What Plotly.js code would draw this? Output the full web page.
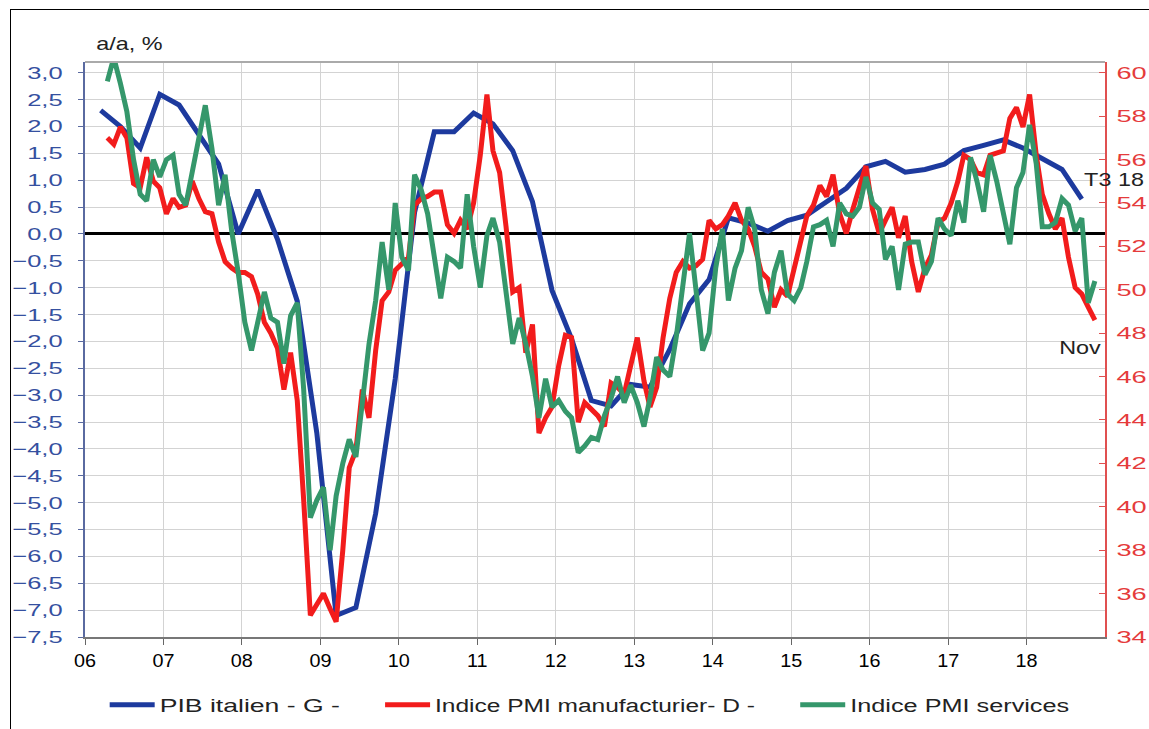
<!DOCTYPE html>
<html>
<head>
<meta charset="utf-8">
<script src="https://cdn.plot.ly/plotly-3.0.1.min.js"></script>
<style>
  html, body { margin: 0; padding: 0; background: #ffffff; }
  #frame { position: absolute; left: 10px; top: 9px; width: 1200px; height: 740px; border: 1px solid #000; }
  #chart { position: absolute; left: 0; top: 0; width: 1149px; height: 729px; }
</style>
</head>
<body>
<div id="frame"></div>
<div id="chart"></div>
<script>
// ---- Data ----
const yearTicks = [2006, 2007, 2008, 2009, 2010, 2011, 2012, 2013, 2014, 2015, 2016, 2017, 2018];
const yearLabels = ['06', '07', '08', '09', '10', '11', '12', '13', '14', '15', '16', '17', '18'];

// Italian GDP, y/y %, quarterly from 2006 Q1 to 2018 Q3
const gdpStart = { year: 2006, quarter: 1 };
const gdpValues = [
  2.3, 2.0, 1.6, 2.6,
  2.4, 1.85, 1.3, 0.0,
  0.82, -0.1, -1.25, -3.7,
  -7.1, -6.95, -5.2, -2.7,
  0.4, 1.9, 1.9, 2.25,
  2.05, 1.55, 0.6, -1.05,
  -1.95, -3.1, -3.2, -2.8,
  -2.85, -2.15, -1.3, -0.85,
  0.3, 0.2, 0.05, 0.25,
  0.35, 0.6, 0.85, 1.25,
  1.35, 1.15, 1.2, 1.3,
  1.55, 1.65, 1.75, 1.6,
  1.4, 1.2, 0.65
];

// PMI series, monthly from April 2006 to November 2018
const pmiStart = { year: 2006, month: 4 };
const pmiManufacturing = [
  57.0, 56.7, 57.5, 57.0, 54.9, 54.7, 56.1, 55.0, 54.7,
  53.5, 54.2, 53.8, 53.9, 55.0, 54.2, 53.6, 53.5, 52.2, 51.3, 51.0, 50.8,
  50.8, 50.6, 49.8, 48.5, 48.0, 47.3, 45.4, 47.1, 44.9, 40.3, 35.0, 35.5,
  36.0, 35.3, 34.7, 38.0, 41.8, 42.6, 45.4, 44.1, 47.2, 49.5, 49.9, 50.9,
  51.2, 51.5, 53.9, 54.2, 54.3, 54.5, 54.5, 53.0, 52.6, 53.2, 52.8, 54.0,
  56.2, 59.0, 56.4, 55.4, 52.9, 49.9, 50.1, 47.1, 48.4, 43.4, 44.1, 44.6,
  46.5, 47.9, 47.8, 43.9, 44.8, 44.5, 44.2, 43.7, 45.7, 45.5, 45.2, 46.5,
  47.8, 45.8, 44.6, 45.5, 47.8, 49.6, 50.8, 51.3, 51.0, 51.1, 51.4, 53.2,
  52.8, 53.0, 53.4, 54.0, 53.2, 52.8, 52.0, 50.8, 50.5, 49.2, 50.0, 49.7,
  51.0, 52.3, 53.4, 53.9, 54.8, 54.3, 55.3, 53.5, 52.6, 53.7, 54.8, 55.7,
  53.7, 52.6, 53.2, 53.8, 52.4, 53.4, 51.3, 49.9, 51.0, 51.6, 53.1, 53.3,
  54.0, 55.0, 56.2, 56.0, 55.4, 55.3, 56.2, 56.3, 56.4, 57.9, 58.4, 57.5,
  59.0, 56.2, 54.4, 53.5, 52.8, 53.3, 51.5, 50.1, 49.8, 49.2, 48.6
];
const pmiServices = [
  59.6, 60.7, 59.5, 58.2, 56.0, 54.4, 54.1, 56.0, 55.2,
  56.0, 56.2, 54.4, 53.9, 55.5, 57.0, 58.5, 56.5, 53.9, 55.3, 52.7, 50.8,
  48.5, 47.2, 48.5, 49.9, 48.7, 48.5, 46.6, 48.8, 49.4, 45.4, 39.5, 40.3,
  40.9, 38.0, 40.5, 42.0, 43.1, 42.3, 44.8, 47.5, 49.5, 52.2, 50.0, 54.0,
  51.5, 50.9, 55.3, 54.6, 53.5, 51.5, 49.6, 51.5, 51.3, 51.0, 54.4, 52.0,
  50.1, 52.5, 53.3, 52.2, 50.0, 47.5, 48.7, 47.5, 46.0, 44.1, 45.9, 44.6,
  44.9, 44.4, 44.1, 42.5, 42.8, 43.2, 43.1, 44.2, 45.0, 46.0, 44.8, 45.6,
  44.8, 43.7, 45.0, 46.9, 46.3, 46.0, 47.8, 50.0, 52.6, 50.0, 47.2, 48.0,
  51.0, 52.8, 49.5, 51.0, 51.8, 53.8, 52.8, 50.0, 48.9, 50.8, 51.8, 49.8,
  49.5, 50.1, 51.3, 52.9, 53.0, 53.2, 52.0, 54.0, 53.5, 53.4, 53.8, 55.2,
  54.0, 53.7, 51.4, 52.0, 50.0, 52.1, 52.2, 52.2, 50.7, 51.3, 53.3, 52.8,
  52.5, 54.1, 53.1, 56.1, 55.0, 53.6, 56.2, 55.0, 53.5, 52.1, 54.7, 55.4,
  57.6, 55.8, 52.9, 52.9, 53.1, 54.2, 53.9, 52.7, 53.3, 49.4, 50.4
];

const seriesNames = ['PIB italien - G -', 'Indice PMI manufacturier- D -', 'Indice PMI services'];
const axisTitle = 'a/a, %';
const gdpLabel = 'T3 18';
const pmiLabel = 'Nov';

// ---- Date helpers (x positions only) ----
function pad(n) { return (n < 10 ? '0' : '') + n; }
function monthDate(y, m) { return y + '-' + pad(m) + '-15'; }
const gdpDates = gdpValues.map((_, i) => {
  const q = gdpStart.quarter - 1 + i;
  const y = gdpStart.year + Math.floor(q / 4);
  const m = (q % 4) * 3 + 3;
  return monthDate(y, m);
});
const pmiDates = pmiManufacturing.map((_, i) => {
  const k = pmiStart.month - 1 + i;
  return monthDate(pmiStart.year + Math.floor(k / 12), (k % 12) + 1);
});
const tickDates = yearTicks.map(y => y + '-01-01');

// ---- Axis ranges ----
const leftMin = -7.5, leftMax = 3.2;
const rightMin = 34, rightMax = 34 + (leftMax - leftMin) * 26 / 10.5;

const BLUE = '#1d3a9e', RED = '#f21c1c', GREEN = '#35976b';
const FONT = 'Liberation Sans, Arial, sans-serif';

const traces = [
  { x: gdpDates, y: gdpValues, name: seriesNames[0], type: 'scatter', mode: 'lines',
    line: { color: BLUE, width: 5 }, yaxis: 'y', legend: 'legend' },
  { x: pmiDates, y: pmiManufacturing, name: seriesNames[1], type: 'scatter', mode: 'lines',
    line: { color: RED, width: 5 }, yaxis: 'y2', legend: 'legend2' },
  { x: pmiDates, y: pmiServices, name: seriesNames[2], type: 'scatter', mode: 'lines',
    line: { color: GREEN, width: 5 }, yaxis: 'y2', legend: 'legend3' }
];

const legendBase = {
  orientation: 'h', xanchor: 'left', yref: 'container', y: 0.033, yanchor: 'middle',
  font: { family: FONT, size: 19, color: '#222' }, bgcolor: 'rgba(0,0,0,0)'
};

const layout = {
  width: 1149, height: 729,
  margin: { l: 85, r: 44, t: 62, b: 92, autoexpand: false },
  paper_bgcolor: 'rgba(0,0,0,0)',
  plot_bgcolor: '#ffffff',
  separators: ', ',
  font: { family: FONT, size: 15, color: '#000' },
  showlegend: true,
  legend: Object.assign({}, legendBase, { x: 0.034 }),
  legend2: Object.assign({}, legendBase, { x: 0.304 }),
  legend3: Object.assign({}, legendBase, { x: 0.711 }),
  xaxis: {
    type: 'date',
    range: ['2006-01-01', '2019-01-01'],
    tickvals: tickDates, ticktext: yearLabels,
    ticks: 'outside', ticklen: 6, tickcolor: '#666',
    showgrid: true, gridcolor: '#d3d3d3', gridwidth: 1,
    showline: true, linecolor: '#777', linewidth: 2, mirror: false,
    tickfont: { family: FONT, size: 18, color: '#000' },
    zeroline: false
  },
  yaxis: {
    range: [leftMin, leftMax],
    tick0: -7.5, dtick: 0.5, tickformat: '.1f',
    ticks: 'outside', ticklen: 5, tickcolor: '#5a6aa0',
    ticklabelstandoff: 12,
    showgrid: true, gridcolor: '#d3d3d3', gridwidth: 1,
    showline: true, linecolor: '#5a6aa0', linewidth: 2,
    tickfont: { family: FONT, size: 17, color: '#3550a0' },
    zeroline: true, zerolinecolor: '#000', zerolinewidth: 3
  },
  yaxis2: {
    overlaying: 'y', side: 'right',
    range: [rightMin, rightMax],
    tick0: 34, dtick: 2,
    ticks: 'inside', ticklen: 6, tickcolor: '#e05050',
    ticklabelstandoff: 6,
    showgrid: false, zeroline: false,
    showline: true, linecolor: '#e05050', linewidth: 2,
    tickfont: { family: FONT, size: 17, color: '#e53b3b' }
  },
  shapes: [
    { type: 'line', xref: 'paper', yref: 'paper', x0: 0, x1: 1, y0: 1, y1: 1,
      line: { color: '#aaaaaa', width: 2 } }
  ],
  annotations: [
    { text: axisTitle, xref: 'paper', yref: 'paper', x: 0.044, y: 1.0, yshift: 18,
      xanchor: 'center', yanchor: 'middle', showarrow: false,
      font: { family: FONT, size: 18, color: '#222' } },
    { text: gdpLabel, x: gdpDates[gdpDates.length - 1], y: 1.0, xref: 'x', yref: 'y',
      xanchor: 'center', yanchor: 'middle', xshift: 32, showarrow: false,
      font: { family: FONT, size: 18, color: '#222' } },
    { text: pmiLabel, x: pmiDates[pmiDates.length - 1], y: 47.3, xref: 'x', yref: 'y2',
      xanchor: 'center', yanchor: 'middle', xshift: -15, showarrow: false,
      font: { family: FONT, size: 18, color: '#222' } }
  ]
};

// The reference's lettering is drawn wider than the stock font: widen real text
// horizontally about its own anchor point.
function widen(root, selector, factor) {
  root.querySelectorAll(selector).forEach(el => {
    const cur = el.getAttribute('transform') || '';
    if (el.__wideT !== undefined && cur === el.__wideT) return;
    const bb = el.getBBox();
    if (!bb || bb.width <= 0) return;
    const anchor = el.getAttribute('text-anchor') || getComputedStyle(el).textAnchor || 'start';
    const ax = anchor === 'end' ? bb.x + bb.width : (anchor === 'middle' ? bb.x + bb.width / 2 : bb.x);
    const t = cur + ' translate(' + ax + ',0) scale(' + factor + ',1) translate(' + (-ax) + ',0)';
    el.setAttribute('transform', t);
    el.__wideT = el.getAttribute('transform');
  });
}
const LEG = ['g.legend', 'g.legend2', 'g.legend3'];
const LEG_WIDEN = [1.4, 1.29, 1.33];
function finish(gd) {
  widen(gd, 'g.ytick text', 1.5);
  widen(gd, 'g.y2tick text', 1.6);
  widen(gd, 'g.xtick text', 1.1);
  LEG.forEach((s, i) => widen(gd, s + ' g.traces text', LEG_WIDEN[i]));
  widen(gd, '.annotation-text', 1.3);
  // legend entries: no clipping of the widened labels, longer line samples
  gd.querySelectorAll(LEG.join(', ')).forEach(l => {
    l.removeAttribute('clip-path');
    l.querySelectorAll('g[clip-path]').forEach(s => s.removeAttribute('clip-path'));
  });
  gd.querySelectorAll(LEG.map(s => s + ' .legendlines path').join(', ')).forEach(p => {
    if (p.getAttribute('d') && p.getAttribute('d') !== 'M-10,0h45') p.setAttribute('d', 'M-10,0h45');
  });
}

const gdEl = document.getElementById('chart');
let busy = false;
const observer = new MutationObserver(() => {
  if (busy) return;
  busy = true;
  try { finish(gdEl); } finally { busy = false; }
});
observer.observe(gdEl, { childList: true, subtree: true, attributes: true, attributeFilter: ['d', 'transform', 'class'] });

Plotly.newPlot(gdEl, traces, layout, { displayModeBar: false, staticPlot: true }).then(gd => {
  finish(gd);
  gd.on('plotly_afterplot', () => finish(gd));
  setTimeout(() => finish(gd), 0);
});
</script>
</body>
</html>
